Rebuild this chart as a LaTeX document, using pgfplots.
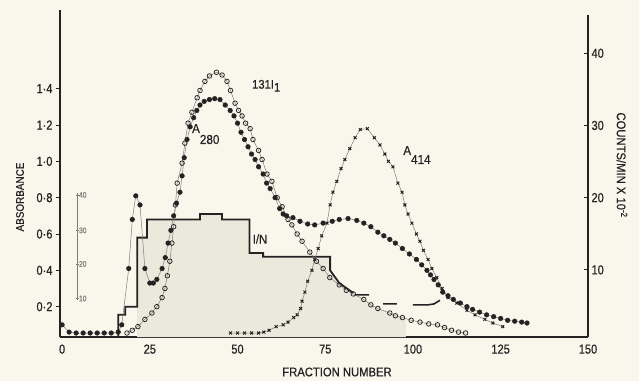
\documentclass[border=0pt]{standalone}
\usepackage{pgfplots}
\pgfplotsset{compat=1.18}
\usepackage{fontspec}
\setmainfont{Liberation Sans}
\newfontfamily\tickfont{Liberation Sans}[FakeStretch=0.85,FakeBold=0.6]
\newfontfamily\labfont{Liberation Sans}[FakeStretch=0.9,FakeBold=0.5]
\definecolor{bg}{RGB}{249,247,236}
\definecolor{ink}{RGB}{35,35,35}
\definecolor{shade}{RGB}{234,233,219}
\definecolor{thinline}{RGB}{125,125,118}
\begin{document}
\begin{tikzpicture}
\useasboundingbox (0pt,0pt) rectangle (639pt,381pt);
\fill[bg] (0pt,0pt) rectangle (639pt,381pt);
\begin{axis}[
  at={(60pt,44pt)}, anchor=south west, scale only axis,
  width=528pt, height=327pt,
  xmin=-0.6, xmax=149.9, ymin=0.033, ymax=1.833,
  axis x line*=bottom, axis y line*=left,
  x axis line style={line width=1.8pt, ink},
  y axis line style={line width=1.3pt, ink},
  xtick={0,25,50,75,100,125,149.9},
  xticklabels={0,25,50,75,100,125,150},
  ytick={0.2,0.4,0.6,0.8,1.0,1.2,1.4},
  yticklabels={0·2,0·4,0·6,0·8,1·0,1·2,1·4},
  tick label style={font=\tickfont\fontsize{13}{13}\selectfont, text=ink},
  xtick style={draw=none},
  ytick style={line width=0.9pt, ink},
  tick align=outside, major tick length=4pt,
  clip=false,
]
% shaded region under I/N
\addplot[fill=shade, draw=none] coordinates {
 (21.4,0.033) (21.4,0.58) (24.2,0.58) (24.2,0.68) (39.3,0.68) (39.3,0.71)
 (45.6,0.71) (45.6,0.68) (53.4,0.68) (53.4,0.495) (57.3,0.495) (57.3,0.475)
 (76.4,0.475) (76.4,0.40) (79,0.32) (83,0.27) (86,0.24) (90,0.19) (95,0.15)
 (98,0.13) (98,0.033)} -- cycle;
% I/N step line
\addplot[ink, line width=1.8pt, mark=none] coordinates {
 (16,0.033) (16,0.155) (18,0.155) (18,0.20) (21.4,0.20) (21.4,0.58)
 (24.2,0.58) (24.2,0.68) (39.3,0.68) (39.3,0.71) (45.6,0.71) (45.6,0.68)
 (53.4,0.68) (53.4,0.495) (57.3,0.495) (57.3,0.475) (76.4,0.475)
 (76.4,0.40) (79,0.33) (83,0.275)};
% dashed continuation
\addplot[ink, line width=1.6pt, mark=none, unbounded coords=jump] coordinates {
 (83.5,0.265) (87.5,0.265) (88,nan)
 (91.5,0.215) (95.4,0.215) (96,nan)
 (100,0.21) (104.3,0.21) (106,0.215) (107.7,0.235)};
% 131I open circles
\addplot[thinline, line width=0.5pt, mark=o, mark size=2.3pt,
  mark options={ink, line width=0.75pt, solid}] coordinates {
 (18.5,0.055) (20,0.07) (21.6,0.09) (23.6,0.13) (25.6,0.165) (27,0.20)
 (28.5,0.25) (29.3,0.30) (30,0.37) (30.7,0.45) (31.3,0.55) (31.8,0.64)
 (32.3,0.76) (32.8,0.88) (34.2,0.99) (35,1.10) (35.9,1.21) (37,1.27)
 (38.5,1.35) (39.3,1.39) (40.7,1.44) (42,1.47) (44,1.49) (45.6,1.475)
 (47,1.44) (48,1.39) (49.3,1.32) (50.3,1.28) (51.3,1.25) (52.3,1.21)
 (53.6,1.18) (54.4,1.12) (56,1.06) (57,1.01) (58.4,0.93) (59.8,0.89)
 (61.3,0.80) (62.7,0.75) (64.4,0.68) (65.5,0.65) (67,0.60) (68.4,0.56)
 (70.6,0.50) (72.5,0.45) (74.4,0.41) (76.3,0.36) (79,0.32) (81,0.29)
 (83,0.27) (86,0.24) (88,0.21) (90,0.19) (93.4,0.165) (95,0.15)
 (97,0.14) (99.5,0.125) (102,0.115) (104.5,0.105) (107,0.10) (109,0.085)
 (111,0.07) (113,0.06) (115,0.055)};
% A280 filled circles
\addplot[thinline, line width=0.5pt, mark=*, mark size=2.3pt,
  mark options={ink, fill=ink, solid}] coordinates {
 (0,0.10) (2,0.06) (4,0.055) (6,0.055) (8,0.055) (10,0.055) (12,0.055)
 (14,0.055) (16,0.06) (17,0.10) (19,0.41) (20,0.68) (21,0.81) (22.2,0.76)
 (23.6,0.41) (25,0.33) (26,0.33) (27,0.35) (28.5,0.41) (29.4,0.47)
 (30.2,0.55) (31,0.62) (31.8,0.70) (32.6,0.77) (33.6,0.83) (34.2,0.92)
 (34.8,1.02) (35.6,1.12) (36.5,1.19) (37.5,1.24) (38.4,1.28) (39.3,1.31)
 (40.5,1.33) (42,1.34) (43.5,1.345) (45,1.34) (46.5,1.31) (47.9,1.28)
 (49,1.25) (50,1.21) (51,1.16) (52,1.12) (53,1.08) (54,1.04) (55,1.01)
 (56,0.97) (57.3,0.93) (58.3,0.88) (59.3,0.85) (60.7,0.80) (62,0.74)
 (63,0.71) (64,0.70) (65.8,0.69) (67.8,0.67) (70,0.655) (72,0.65)
 (74.4,0.66) (77,0.67) (79,0.68) (81.5,0.685) (84,0.675) (86,0.66)
 (88,0.64) (90,0.61) (91.7,0.59) (93.4,0.57) (95,0.55) (97,0.52)
 (99,0.49) (101,0.46) (102.5,0.43) (104,0.40) (105,0.375) (106,0.35)
 (107.2,0.32) (108.5,0.28) (110,0.26) (111.5,0.24) (113.5,0.22)
 (115.4,0.20) (117,0.185) (119,0.17) (121,0.155) (123,0.145) (125,0.135)
 (127,0.125) (129,0.12) (131,0.115) (132.5,0.11)};
% A414 crosses
\addplot[thinline, line width=0.5pt, mark=x, mark size=2pt,
  mark options={ink, line width=1pt, solid}] coordinates {
 (48,0.055) (50,0.055) (52,0.055) (54,0.055) (56,0.055) (57.5,0.06)
 (59,0.07) (61,0.09) (63,0.10) (64.4,0.115) (66,0.14) (67,0.155) (68,0.19)
 (68.4,0.23) (69.2,0.28) (70,0.34) (71.2,0.40) (72,0.46) (73,0.52)
 (74,0.59) (75.5,0.66) (76.4,0.76) (77.2,0.83) (78.3,0.89) (79.5,0.96)
 (80.6,1.01) (82,1.07) (83.5,1.13) (85,1.175) (87,1.18) (89,1.13)
 (90.6,1.09) (92,1.04) (93,1.00) (94.3,0.97) (95.7,0.88) (96.9,0.83)
 (97.7,0.76) (98.6,0.71) (99.7,0.66) (101,0.60) (102,0.56) (103,0.51)
 (104.3,0.46) (105.4,0.41) (106.8,0.36) (108.3,0.30) (110,0.25)
 (112.5,0.22) (115.4,0.18) (117.7,0.155) (120.5,0.13) (122.8,0.11)
 (125.6,0.09)};
% in-chart labels
\node[anchor=base west, inner sep=0pt, text=ink, font=\labfont\fontsize{12.5}{12.5}\selectfont]
  at (axis cs:54.1,1.40) {131I\raisebox{-3pt}{1}};
\node[anchor=base west, inner sep=0pt, text=ink, font=\labfont\fontsize{13}{13}\selectfont]
  at (axis cs:37.0,1.156) {A\raisebox{-11pt}{280}};
\node[anchor=base west, inner sep=0pt, text=ink, font=\labfont\fontsize{13}{13}\selectfont]
  at (axis cs:97.2,1.035) {A\raisebox{-9pt}{414}};
\node[anchor=west, inner sep=0pt, text=ink, font=\labfont\fontsize{12.5}{12.5}\selectfont]
  at (axis cs:54.3,0.572) {I/N};
% inset scale
\draw[thinline, line width=0.7pt] (axis cs:4.3,0.826) -- (axis cs:4.3,0.237);
\draw[thinline, line width=0.6pt] ([xshift=-1.5pt]axis cs:4.3,0.815) -- ([xshift=1.5pt]axis cs:4.3,0.815);
\draw[thinline, line width=0.6pt] ([xshift=-1.5pt]axis cs:4.3,0.62) -- ([xshift=1.5pt]axis cs:4.3,0.62);
\draw[thinline, line width=0.6pt] ([xshift=-1.5pt]axis cs:4.3,0.435) -- ([xshift=1.5pt]axis cs:4.3,0.435);
\draw[thinline, line width=0.6pt] ([xshift=-1.5pt]axis cs:4.3,0.245) -- ([xshift=1.5pt]axis cs:4.3,0.245);
\node[anchor=west, inner sep=0.5pt, text=thinline, font=\tickfont\fontsize{8}{8}\selectfont] at (axis cs:4.6,0.815) {40};
\node[anchor=west, inner sep=0.5pt, text=thinline, font=\tickfont\fontsize{8}{8}\selectfont] at (axis cs:4.6,0.62) {30};
\node[anchor=west, inner sep=0.5pt, text=thinline, font=\tickfont\fontsize{8}{8}\selectfont] at (axis cs:4.6,0.435) {20};
\node[anchor=west, inner sep=0.5pt, text=thinline, font=\tickfont\fontsize{8}{8}\selectfont] at (axis cs:4.6,0.245) {10};
\end{axis}
\begin{axis}[
  at={(60pt,44pt)}, anchor=south west, scale only axis,
  width=528pt, height=322pt,
  xmin=-0.6, xmax=149.9, ymin=0.7, ymax=45.3,
  axis x line=none, axis y line*=right,
  y axis line style={line width=1.3pt, ink},
  ytick={10,20,30,40}, yticklabels={10,20,30,40},
  tick label style={font=\tickfont\fontsize{13}{13}\selectfont, text=ink},
  ytick style={line width=0.9pt, ink},
  tick align=inside, major tick length=4pt,
]
\addplot[draw=none] coordinates {(0,1)};
\end{axis}
\node[rotate=90, text=ink, font=\labfont\fontsize{11}{11}\selectfont] at (20pt,184pt) {ABSORBANCE};
\node[rotate=-90, text=ink, font=\labfont\fontsize{12.5}{12.5}\selectfont] at (622pt,216pt) {COUNTS/MIN X 10\textsuperscript{-2}};
\node[text=ink, font=\labfont\fontsize{12.5}{12.5}\selectfont] at (337pt,9pt) {FRACTION NUMBER};
\end{tikzpicture}
\end{document}
